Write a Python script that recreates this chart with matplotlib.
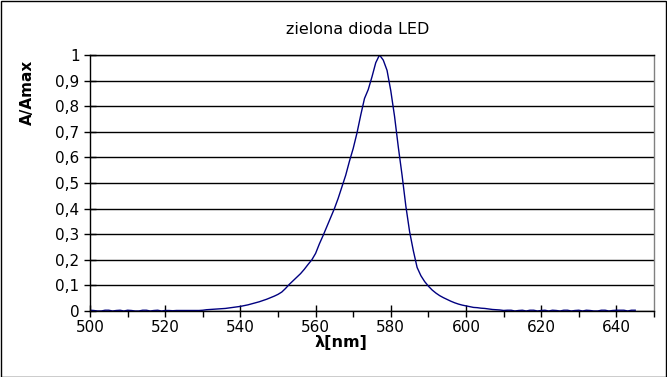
import matplotlib
matplotlib.use("Agg")
import matplotlib.pyplot as plt
from matplotlib.ticker import MultipleLocator, FuncFormatter
from matplotlib.patches import Rectangle

# wavelength [nm] and normalised absorbance
wavelength = list(range(500, 646))
absorbance = [
    # 500-529
    0.003, 0.002, 0.000, 0.000, 0.003, 0.003, 0.000, 0.002, 0.003, 0.000,
    0.003, 0.002, 0.000, 0.000, 0.003, 0.003, 0.000, 0.002, 0.003, 0.000,
    0.002, 0.002, 0.001, 0.002, 0.002, 0.002, 0.002, 0.002, 0.002, 0.002,
    # 530-559
    0.003, 0.005, 0.006, 0.007, 0.008, 0.009, 0.010, 0.012, 0.014, 0.016,
    0.018, 0.021, 0.024, 0.028, 0.032, 0.036, 0.041, 0.046, 0.052, 0.058,
    0.065, 0.074, 0.088, 0.104, 0.118, 0.132, 0.146, 0.163, 0.182, 0.200,
    # 560-589
    0.225, 0.262, 0.295, 0.330, 0.365, 0.400, 0.440, 0.485, 0.530, 0.585,
    0.635, 0.695, 0.765, 0.830, 0.865, 0.915, 0.970, 1.000, 0.980, 0.940,
    0.860, 0.760, 0.640, 0.530, 0.410, 0.310, 0.235, 0.170, 0.138, 0.115,
    # 590-619
    0.097, 0.082, 0.070, 0.060, 0.052, 0.045, 0.038, 0.032, 0.027, 0.023,
    0.020, 0.017, 0.014, 0.013, 0.011, 0.010, 0.008, 0.006, 0.005, 0.004,
    0.002, 0.003, 0.003, 0.000, 0.002, 0.003, 0.000, 0.003, 0.003, 0.000,
    # 620-645
    0.002, 0.003, 0.000, 0.003, 0.002, 0.000, 0.003, 0.003, 0.000, 0.002,
    0.003, 0.000, 0.003, 0.002, 0.000, 0.000, 0.003, 0.003, 0.000, 0.002,
    0.003, 0.003, 0.003, 0.000, 0.003, 0.003,
]

fig = plt.figure(figsize=(6.67, 3.77), dpi=100)
ax = fig.add_axes([90 / 667, 1 - 311 / 377, 564 / 667, 256 / 377])

ax.plot(wavelength, absorbance, color="#000080", lw=1.0, zorder=2)

ax.set_xlim(500, 650)
ax.set_ylim(0, 1)
ax.xaxis.set_major_locator(MultipleLocator(20))
ax.xaxis.set_minor_locator(MultipleLocator(10))
ax.yaxis.set_major_locator(MultipleLocator(0.1))

ax.yaxis.set_major_formatter(FuncFormatter(lambda v, p: f"{round(v, 1):g}".replace(".", ",")))

ax.grid(True, axis="y", color="black", lw=1.0, zorder=1)
ax.set_axisbelow(True)

ax.tick_params(axis="both", which="major", direction="inout", length=9, width=1,
               labelsize=11, color="black")
ax.tick_params(axis="x", which="major", pad=2)
ax.tick_params(axis="y", which="major", pad=3)
ax.tick_params(axis="x", which="minor", direction="out", length=4, width=1)

for s in ["left", "bottom", "top"]:
    ax.spines[s].set_color("black")
    ax.spines[s].set_linewidth(1)
ax.spines["right"].set_color("#808080")
ax.spines["right"].set_linewidth(1)

fig.text(358 / 667, 1 - 30 / 377, "zielona dioda LED", ha="center", va="center", fontsize=11.5)
fig.text(341 / 667, 1 - 343 / 377, "λ[nm]", ha="center", va="center",
         fontsize=11.5, fontweight="bold")
fig.text(27 / 667, 1 - 92 / 377, "A/Amax", ha="center", va="center",
         rotation=90, fontsize=11, fontweight="bold")

# black frame around the whole chart
fig.patches.append(Rectangle((0.5 / 667, 0.5 / 377), 665.5 / 667, 375.5 / 377,
                             transform=fig.transFigure, fill=False,
                             edgecolor="black", lw=1))

fig.savefig("out.png", dpi=100)
